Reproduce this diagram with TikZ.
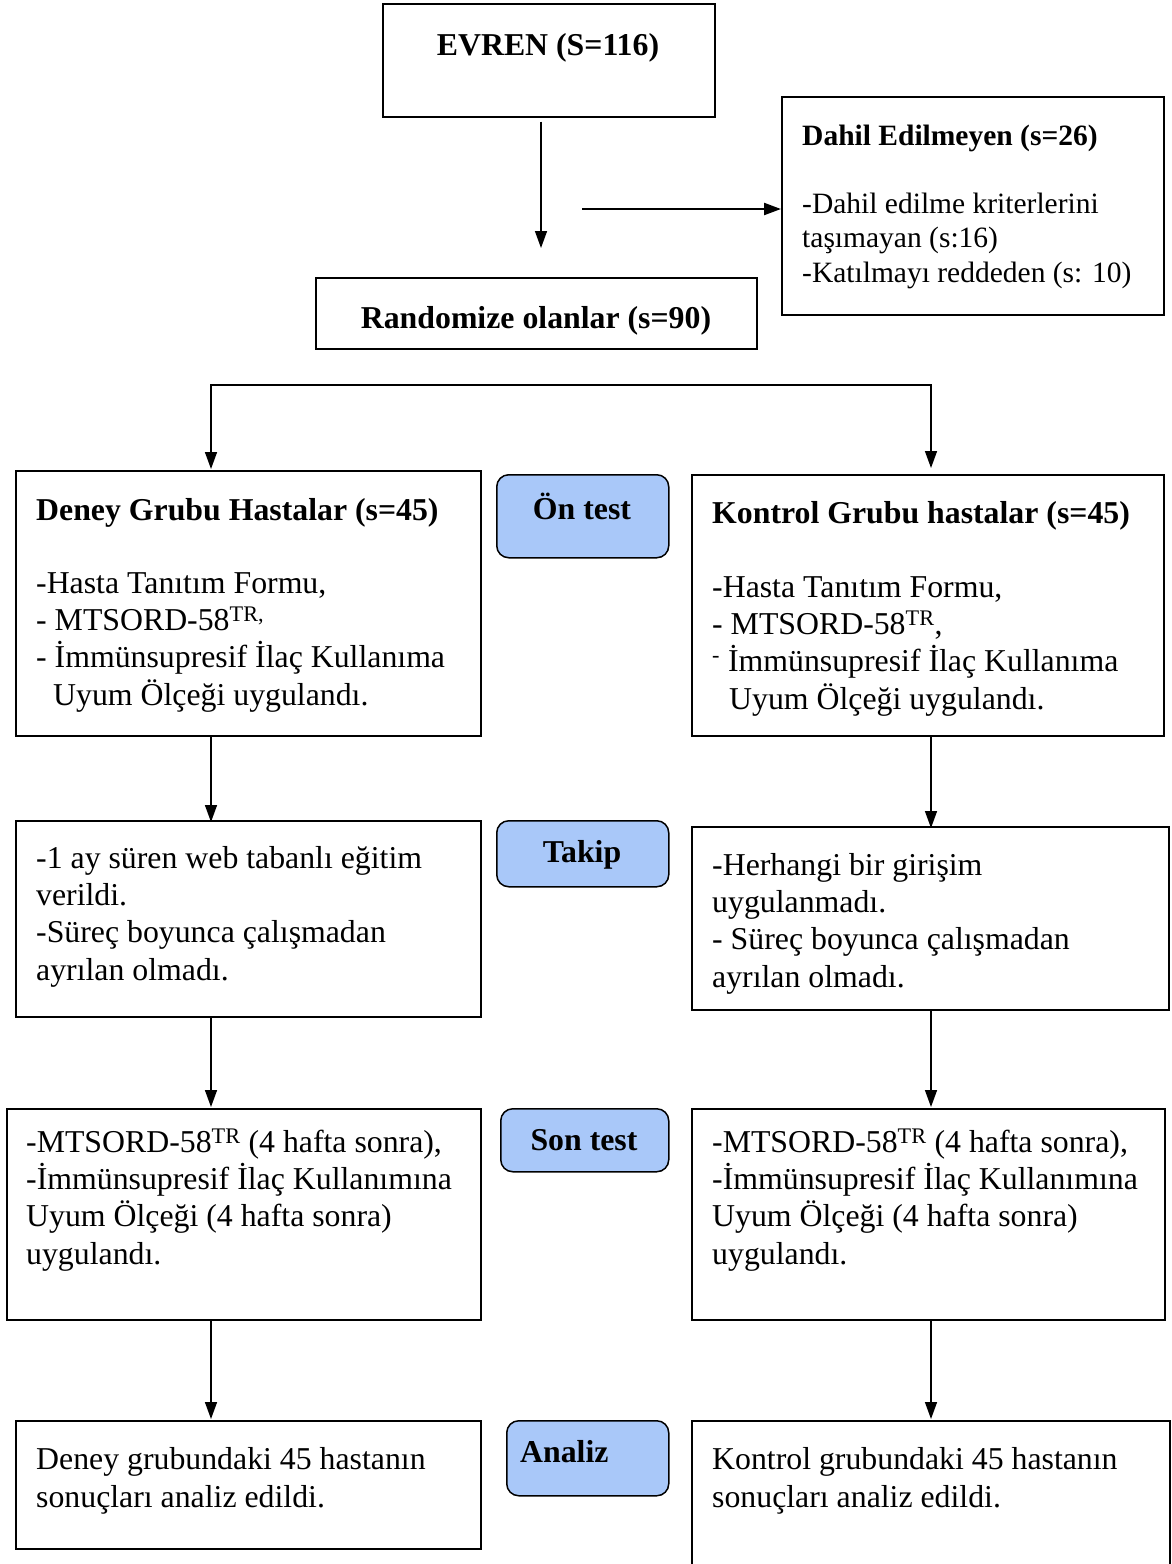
\documentclass[tikz,border=0pt]{standalone}
\usepackage{fontspec}
\setmainfont{Liberation Serif}
\usepackage{tikz}
\usetikzlibrary{arrows.meta}

\definecolor{stagefill}{RGB}{169,200,249}

\tikzset{
  box/.style={draw, line width=1.5pt, anchor=north west, inner sep=0pt},
  stagebox/.style={box, rounded corners=12pt, fill=stagefill},
  txt/.style={anchor=base west, align=left, inner sep=0pt, font=\fontsize{31.8}{37.3}\selectfont},
  ttl/.style={txt, font=\fontsize{31.8}{37.3}\selectfont\bfseries},
  smalltxt/.style={txt, font=\fontsize{29.5}{34.5}\selectfont},
  arr/.style={-{Triangle[length=17pt,width=12pt]}, line width=1.5pt},
}

\begin{document}
\begin{tikzpicture}[x=1pt,y=-1pt]
\useasboundingbox (0,0) rectangle (1171,1564);
\clip (0,0) rectangle (1171,1564);

% top part (multi-line texts sit on the baseline of their last line)
\node[box, minimum width=332pt, minimum height=113pt] (evren) at (382,3) {};
\node[ttl, anchor=base] (evrentxt) at (548,55) {EVREN (S=116)};
\node[box, minimum width=441pt, minimum height=71pt] (rand) at (315,277) {};
\node[ttl, anchor=base] (randtxt) at (536,328) {Randomize olanlar (s=90)};
\node[box, minimum width=382pt, minimum height=218pt] (dahil) at (781,96) {};
\node[smalltxt, font=\fontsize{29.5}{34.5}\selectfont\bfseries] (dahiltxt) at (802,145) {Dahil Edilmeyen (s=26)};
\node[smalltxt] (dahilbody) at (802,282) {-Dahil edilme kriterlerini\\ta\c{s}\i mayan (s:16)\\-Kat\i lmay\i{} reddeden (s: 10)};

\coordinate (down) at (541,209);
\coordinate (excl) at (582,209);
\draw[arr, shorten <=4pt, shorten >=29pt] (down |- evren.south) -- (down |- rand.north);
\draw[arr, line width=2.2pt] (excl) -- (excl -| dahil.west);

% stage labels
\node[stagebox, minimum width=172pt, minimum height=83pt] (ontest) at (496,474) {};
\node[ttl, anchor=base] (ontesttxt) at (582,519) {Ön test};
\node[stagebox, minimum width=172pt, minimum height=66pt] (takip) at (496,820) {};
\node[ttl, anchor=base] (takiptxt) at (582,862) {Takip};
\node[stagebox, minimum width=168pt, minimum height=63pt] (sontest) at (500,1108) {};
\node[ttl, anchor=base] (sontesttxt) at (584,1150) {Son test};
\node[stagebox, minimum width=162pt, minimum height=75pt] (analiz) at (506,1420) {};
\node[ttl] (analiztxt) at (520,1462) {Analiz};

% left column
\node[box, minimum width=465pt, minimum height=265pt] (deney) at (15,470) {};
\node[ttl] (deneytxt) at (36,520) {Deney Grubu Hastalar (s=45)};
\node[txt] (deneybody) at (36,705) {-Hasta Tan\i t\i m Formu,\\- MTSORD-58\textsuperscript{TR,}\\- İmmünsupresif İlaç Kullan\i ma\\\hspace*{17pt}Uyum Ölçeği uyguland\i .};
\node[box, minimum width=465pt, minimum height=196pt] (egitim) at (15,820) {};
\node[txt] (egitimtxt) at (36,980) {-1 ay süren web tabanl\i{} eğitim\\verildi.\\-Süreç boyunca çal\i şmadan\\ayr\i lan olmad\i .};
\node[box, minimum width=474pt, minimum height=211pt] (sonL) at (6,1108) {};
\node[txt] (sonLtxt) at (26,1264) {-MTSORD-58\textsuperscript{TR} (4 hafta sonra),\\-İmmünsupresif İlaç Kullan\i m\i na\\Uyum Ölçeği (4 hafta sonra)\\uyguland\i .};
\node[box, minimum width=465pt, minimum height=128pt] (analizL) at (15,1420) {};
\node[txt] (analizLtxt) at (36,1507) {Deney grubundaki 45 hastan\i n\\sonuçlar\i{} analiz edildi.};

% right column
\node[box, minimum width=472pt, minimum height=261pt] (kontrol) at (691,474) {};
\node[ttl] (kontroltxt) at (712,523) {Kontrol Grubu hastalar (s=45)};
\node[txt] (kontrolbody) at (712,709) {-Hasta Tan\i t\i m Formu,\\- MTSORD-58\textsuperscript{TR},\\\textsuperscript{-} İmmünsupresif İlaç Kullan\i ma\\\hspace*{17pt}Uyum Ölçeği uyguland\i .};
\node[box, minimum width=477pt, minimum height=183pt] (girisim) at (691,826) {};
\node[txt] (girisimtxt) at (712,987) {-Herhangi bir giri\c{s}im\\uygulanmad\i .\\- Süreç boyunca çal\i şmadan\\ayr\i lan olmad\i .};
\node[box, minimum width=473pt, minimum height=211pt] (sonR) at (691,1108) {};
\node[txt] (sonRtxt) at (712,1264) {-MTSORD-58\textsuperscript{TR} (4 hafta sonra),\\-İmmünsupresif İlaç Kullan\i m\i na\\Uyum Ölçeği (4 hafta sonra)\\uyguland\i .};
\node[box, minimum width=478pt, minimum height=180pt] (analizR) at (691,1420) {};
\node[txt] (analizRtxt) at (712,1507) {Kontrol grubundaki 45 hastan\i n\\sonuçlar\i{} analiz edildi.};

% connectors
\coordinate (lcol) at (211,385);
\coordinate (rcol) at (931,385);
\draw[arr, shorten >=1pt] (rcol) -- (lcol) -- (lcol |- deney.north);
\draw[arr, shorten >=6pt] (lcol) -- (rcol) -- (rcol |- kontrol.north);
\draw[arr, shorten >=-2pt] (lcol |- deney.south) -- (lcol |- egitim.north);
\draw[arr, shorten >=-2pt] (rcol |- kontrol.south) -- (rcol |- girisim.north);
\draw[arr, shorten >=1pt] (lcol |- egitim.south) -- (lcol |- sonL.north);
\draw[arr, shorten >=1pt] (rcol |- girisim.south) -- (rcol |- sonR.north);
\draw[arr, shorten >=1pt] (lcol |- sonL.south) -- (lcol |- analizL.north);
\draw[arr, shorten >=1pt] (rcol |- sonR.south) -- (rcol |- analizR.north);
\end{tikzpicture}
\end{document}
